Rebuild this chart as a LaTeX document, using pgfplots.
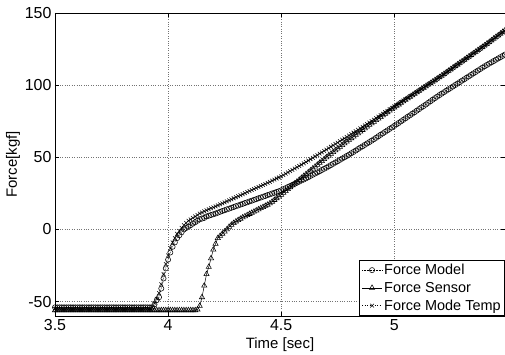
\documentclass[border=0pt]{standalone}
\usepackage{pgfplots}
\pgfplotsset{compat=1.18}
\usepackage{pgfplotstable}
\usepackage{fontspec}
\setmainfont{Liberation Sans}
\usetikzlibrary{calc}
\pgfplotstableread{
x m s t
3.50 -54 -56 -55
3.51 -54 -56 -55
3.52 -54 -56 -55
3.53 -54 -56 -55
3.54 -54 -56 -55
3.55 -54 -56 -55
3.56 -54 -56 -55
3.57 -54 -56 -55
3.58 -54 -56 -55
3.59 -54 -56 -55
3.60 -54 -56 -55
3.61 -54 -56 -55
3.62 -54 -56 -55
3.63 -54 -56 -55
3.64 -54 -56 -55
3.65 -54 -56 -55
3.66 -54 -56 -55
3.67 -54 -56 -55
3.68 -54 -56 -55
3.69 -54 -56 -55
3.70 -54 -56 -55
3.71 -54 -56 -55
3.72 -54 -56 -55
3.73 -54 -56 -55
3.74 -54 -56 -55
3.75 -54 -56 -55
3.76 -54 -56 -55
3.77 -54 -56 -55
3.78 -54 -56 -55
3.79 -54 -56 -55
3.80 -54 -56 -55
3.81 -54 -56 -55
3.82 -54 -56 -55
3.83 -54 -56 -55
3.84 -54 -56 -55
3.85 -54 -56 -55
3.86 -54 -56 -55
3.87 -54 -56 -55
3.88 -54 -56 -55
3.89 -54 -56 -55
3.90 -54 -56 -55
3.91 -54 -56 -55
3.92 -54 -56 -55
3.93 -54 -56 -54
3.94 -52 -56 -51
3.95 -49 -56 -48
3.96 -47 -56 -44
3.97 -41 -56 -38
3.98 -34 -56 -31
3.99 -27 -56 -24
4.00 -21 -56 -18
4.01 -16 -56 -13
4.02 -12 -56 -9
4.03 -9 -56 -6
4.04 -6 -56 -3
4.05 -4 -56 -1
4.06 -2 -56 1
4.07 0 -56 3
4.08 1 -56 4.5
4.09 2 -56 6
4.10 3 -56 7
4.11 4 -56 8
4.12 5 -56 9
4.13 6 -55.5 10
4.14 7 -53 11
4.15 7.5 -47 11.8
4.16 8 -39 12.6
4.17 9 -31 13.3
4.18 9.5 -26 14
4.19 10 -20 14.7
4.20 10.5 -14 15.3
4.21 11 -10 16
4.22 11.6 -6 16.7
4.23 12.2 -4.5 17.4
4.24 12.8 -3 18.1
4.25 13.3 -1.5 18.8
4.26 13.9 0 19.5
4.27 14.4 1.8 20.2
4.28 15 3.2 20.9
4.29 15.5 4.4 21.6
4.30 16.1 5.5 22.3
4.31 16.6 6.5 23
4.32 17.2 7.4 23.7
4.33 17.7 8.3 24.4
4.34 18.3 9.1 25.1
4.35 18.8 9.9 25.9
4.36 19.4 10.7 26.6
4.37 19.9 11.5 27.3
4.38 20.5 12.3 28
4.39 21 13.1 28.7
4.40 21.6 13.9 29.4
4.41 22.1 14.7 30.1
4.42 22.7 15.5 30.8
4.43 23.2 16.3 31.5
4.44 23.8 17.1 32.3
4.45 24.3 18 33
4.46 24.9 19.2 33.8
4.47 25.4 20.4 34.5
4.48 26 21.6 35.3
4.49 26.5 22.8 36
4.50 27.1 24 36.8
4.51 27.9 25.3 37.7
4.52 28.6 26.6 38.6
4.53 29.4 27.9 39.5
4.54 30.1 29.2 40.4
4.55 30.9 30.5 41.3
4.56 31.6 31.8 42.2
4.57 32.4 33.1 43.1
4.58 33.1 34.4 44
4.59 33.9 35.7 44.9
4.60 34.6 37 45.8
4.61 35.4 38.3 46.8
4.62 36.2 39.6 47.7
4.63 37.1 40.9 48.7
4.64 37.9 42.2 49.6
4.65 38.7 43.5 50.6
4.66 39.5 44.8 51.5
4.67 40.3 46.1 52.5
4.68 41.2 47.4 53.4
4.69 42 48.7 54.4
4.70 42.8 50 55.3
4.71 43.7 51.2 56.3
4.72 44.6 52.4 57.3
4.73 45.5 53.6 58.2
4.74 46.4 54.8 59.2
4.75 47.3 56 60.2
4.76 48.2 57.2 61.2
4.77 49.1 58.4 62.2
4.78 50 59.6 63.1
4.79 50.9 60.8 64.1
4.80 51.8 62 65.1
4.81 52.8 63.2 66.1
4.82 53.7 64.3 67.1
4.83 54.7 65.5 68.1
4.84 55.7 66.6 69.1
4.85 56.7 67.8 70.1
4.86 57.6 68.9 71.1
4.87 58.6 70.1 72.1
4.88 59.6 71.2 73.1
4.89 60.5 72.4 74.1
4.90 61.5 73.5 75.1
4.91 62.5 74.6 76.1
4.92 63.5 75.7 77.1
4.93 64.6 76.8 78.2
4.94 65.6 77.9 79.2
4.95 66.6 79 80.2
4.96 67.6 80.1 81.2
4.97 68.6 81.2 82.2
4.98 69.7 82.3 83.3
4.99 70.7 83.4 84.3
5.00 71.7 84.5 85.3
5.01 72.8 85.6 86.3
5.02 73.8 86.6 87.3
5.03 74.9 87.7 88.3
5.04 75.9 88.7 89.3
5.05 77 89.8 90.3
5.06 78.1 90.8 91.3
5.07 79.1 91.9 92.3
5.08 80.2 92.9 93.3
5.09 81.2 94 94.3
5.10 82.3 95 95.3
5.11 83.4 96.1 96.3
5.12 84.5 97.1 97.3
5.13 85.5 98.2 98.3
5.14 86.6 99.2 99.3
5.15 87.7 100.3 100.3
5.16 88.8 101.3 101.3
5.17 89.9 102.4 102.3
5.18 91 103.4 103.3
5.19 92 104.5 104.3
5.20 93.1 105.5 105.3
5.21 94.1 106.6 106.4
5.22 95.1 107.7 107.5
5.23 96.1 108.8 108.6
5.24 97.1 109.9 109.7
5.25 98.1 111 110.8
5.26 99.1 112.1 111.9
5.27 100.1 113.2 113
5.28 101.1 114.3 114.1
5.29 102.1 115.4 115.2
5.30 103.1 116.5 116.3
5.31 104.1 117.6 117.4
5.32 105.1 118.7 118.5
5.33 106.1 119.8 119.6
5.34 107.1 120.9 120.7
5.35 108.1 122 121.8
5.36 109.1 123.1 122.9
5.37 110.1 124.2 124
5.38 111.1 125.3 125.1
5.39 112.1 126.4 126.2
5.40 113.1 127.5 127.3
5.41 114 128.7 128.5
5.42 114.9 129.8 129.6
5.43 115.8 131 130.8
5.44 116.7 132.2 131.9
5.45 117.6 133.4 133.1
5.46 118.5 134.5 134.2
5.47 119.4 135.7 135.4
5.48 120.3 136.9 136.5
5.49 121.2 138 137.7
}\forcedata
\begin{document}
\begin{tikzpicture}
\begin{axis}[
  scale only axis,
  width=450bp, height=303bp,
  xmin=3.5, xmax=5.49, ymin=-60, ymax=150,
  xtick={3.5,4,4.5,5}, xticklabels={3.5,4,4.5,5},
  ytick={-50,0,50,100,150},
  tick align=inside, major tick length=4bp,
  tick style={black, line width=0.6pt},
  axis line style={black, line width=0.8pt},
  grid=major,
  grid style={black!55, dotted, line width=0.5pt},
  xlabel={Time [sec]}, ylabel={Force[kgf]},
  /pgf/number format/assume math mode=true,
  tick label style={font=\fontsize{16}{18}\selectfont},
  label style={font=\fontsize{15}{17}\selectfont},
  xlabel style={yshift=0bp},
  ylabel style={yshift=-2bp},
  legend style={at={(rel axis cs:1,0)}, anchor=south east,
    font=\fontsize{14.5}{16}\selectfont, draw=black, line width=0.8pt,
    inner xsep=2pt, inner ysep=2pt, row sep=2pt, fill=white,
    nodes={inner xsep=2pt}},
  legend cell align=left,
  legend image code/.code={
    \draw[mark repeat=2,mark phase=2,#1] plot coordinates {(0cm,0cm) (0.35cm,0cm) (0.7cm,0cm)};},
]
\addplot[black, densely dotted, line width=0.5pt, mark=o, mark size=2.6bp, mark options={solid, line width=0.55pt}] table[x=x, y=m] {\forcedata};
\addlegendentry{Force Model}
\addplot[black, solid, line width=0.5pt, mark=triangle, mark size=3bp, mark options={solid, line width=0.55pt}] table[x=x, y=s] {\forcedata};
\addlegendentry{Force Sensor}
\addplot[black, dotted, line width=0.5pt, mark=x, mark size=2.6bp, mark options={solid, line width=0.55pt}] table[x=x, y=t] {\forcedata};
\addlegendentry{Force Mode Temp}
\end{axis}
\pgfresetboundingbox
\path[use as bounding box] ($(current axis.south west)+(-55bp,-39bp)$) rectangle ($(current axis.north east)+(0bp,13bp)$);
\end{tikzpicture}
\end{document}
